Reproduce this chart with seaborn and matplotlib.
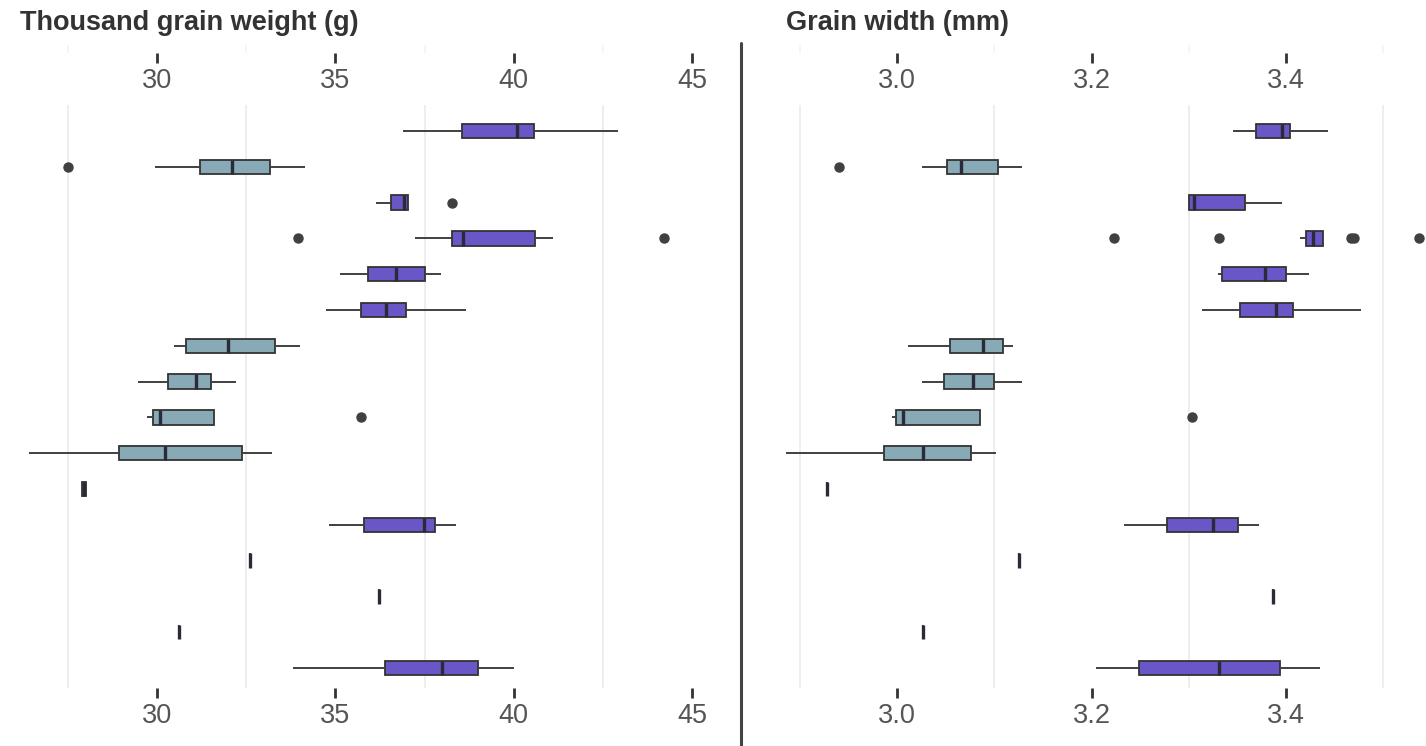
import matplotlib
matplotlib.use("Agg")
import matplotlib.pyplot as plt
from matplotlib.lines import Line2D
import seaborn as sns
import pandas as pd

sns.set_style("white")
plt.rcParams["font.family"] = ["Liberation Sans", "DejaVu Sans"]

# Filas (de arriba hacia abajo) y grupo de color de cada una
rows = ["1", "2", "3", "4", "5", "6", "7", "8", "9", "10", "11", "12", "13", "14", "15", "16"]
groups = ["B", "A", "B", "B", "B", "B", "A", "A", "A", "A", "A", "B", "A", "B", "A", "B"]
palette = {"A": "#88a9b6", "B": "#6a56c6"}

# Thousand grain weight (g): bigote inferior, Q1, mediana, Q3, bigote superior, atípicos
tgw_low = [36.91, 29.94, 36.14, 37.24, 35.14, 34.74, 30.48, 29.47, 29.73, 26.42, 27.88, 34.83, 32.60, 36.21, 30.61, 33.80]
tgw_q1 = [38.55, 31.21, 36.56, 38.27, 35.92, 35.71, 30.81, 30.32, 29.90, 28.93, 27.90, 35.81, 32.60, 36.21, 30.61, 36.38]
tgw_med = [40.10, 32.09, 36.92, 38.57, 36.69, 36.43, 32.00, 31.10, 30.08, 30.22, 27.96, 37.48, 32.60, 36.21, 30.61, 37.98]
tgw_q3 = [40.56, 33.18, 37.03, 40.59, 37.52, 36.98, 33.32, 31.51, 31.61, 32.39, 28.02, 37.80, 32.60, 36.21, 30.61, 38.99]
tgw_high = [42.92, 34.15, 37.03, 41.09, 37.96, 38.67, 34.02, 32.21, 31.61, 33.22, 28.05, 38.37, 32.60, 36.21, 30.61, 40.01]
tgw_out = [[], [27.51], [38.27], [33.94, 44.21], [], [], [], [], [35.71], [], [], [], [], [], [], []]

# Grain width (mm)
gw_low = [3.345, 3.026, 3.299, 3.414, 3.330, 3.313, 3.011, 3.026, 2.995, 2.886, 2.928, 3.233, 3.125, 3.386, 3.027, 3.205]
gw_q1 = [3.369, 3.051, 3.300, 3.420, 3.334, 3.353, 3.055, 3.048, 2.999, 2.987, 2.928, 3.278, 3.125, 3.386, 3.027, 3.249]
gw_med = [3.396, 3.066, 3.305, 3.428, 3.378, 3.390, 3.088, 3.078, 3.006, 3.027, 2.928, 3.325, 3.125, 3.386, 3.027, 3.331]
gw_q3 = [3.404, 3.104, 3.358, 3.438, 3.400, 3.407, 3.109, 3.100, 3.085, 3.076, 2.928, 3.350, 3.125, 3.386, 3.027, 3.394]
gw_high = [3.443, 3.129, 3.396, 3.438, 3.423, 3.477, 3.119, 3.128, 3.085, 3.102, 2.928, 3.372, 3.125, 3.386, 3.027, 3.435]
gw_out = [[], [2.940], [], [3.223, 3.331, 3.467, 3.470, 3.537], [], [], [], [], [3.303], [], [], [], [], [], [], []]

tgw_ticks = [30, 35, 40, 45]
tgw_grid = [27.5, 32.5, 37.5, 42.5]
gw_ticks = [3.0, 3.2, 3.4]
gw_grid = [2.9, 3.1, 3.3, 3.5]

W, H = 1426, 746


def long_form(low, q1, med, q3, high, outliers, reps=20):
    """Observaciones que reproducen los cuartiles y bigotes leídos."""
    records = []
    for row, grp, lo, a, m, b, hi, outs in zip(rows, groups, low, q1, med, q3, high, outliers):
        sample = [lo] + [a] * reps + [m] * reps + [b] * reps + [hi] + list(outs)
        records += [(row, grp, v) for v in sample]
    return pd.DataFrame(records, columns=["row", "group", "value"])


def style_ticks(ax, pad):
    ax.tick_params(axis="x", which="major", bottom=True, direction="out", length=7,
                   width=2, color="#333333", pad=pad, labelsize=19.5,
                   labelcolor="#555555")
    ax.tick_params(axis="x", which="minor", bottom=False, length=0)


def panel(x0, x1, data, xlim, ticks, grid, title, title_x):
    top, bottom = 105, 688
    ax = fig.add_axes([x0 / W, 1 - bottom / H, (x1 - x0) / W, (bottom - top) / H])
    sns.boxplot(
        data=data, x="value", y="row", hue="group", order=rows, palette=palette,
        dodge=False, orient="h", width=0.4, saturation=1, legend=False,
        linewidth=1.3, linecolor="#333333", showcaps=False,
        flierprops=dict(marker="o", markersize=6.5, markerfacecolor="#404040",
                        markeredgecolor="#404040"),
        medianprops=dict(linewidth=2.4, color="#2a2a38"),
        whiskerprops=dict(linewidth=1.4, color="#404040"),
        ax=ax,
    )
    ax.set_xlim(*xlim)
    ax.set_ylim(15.56, -0.726)
    ax.set_xticks(ticks)
    ax.set_xticks(grid, minor=True)
    ax.grid(False)
    ax.grid(which="minor", axis="x", color="#ebebeb", linewidth=1.2)
    style_ticks(ax, pad=4)
    ax.tick_params(axis="y", left=False, labelleft=False)
    ax.set_xlabel("")
    ax.set_ylabel("")
    for s in ax.spines.values():
        s.set_visible(False)

    # eje superior duplicado: marca arriba y etiqueta debajo
    axt = fig.add_axes([x0 / W, 1 - 53 / H, (x1 - x0) / W, 8 / H])
    axt.set_xlim(*xlim)
    axt.set_xticks(ticks)
    axt.set_xticks(grid, minor=True)
    axt.grid(False)
    axt.grid(which="minor", axis="x", color="#f3f3f3", linewidth=1.2)
    style_ticks(axt, pad=4)
    axt.set_yticks([])
    axt.patch.set_alpha(0)
    for s in axt.spines.values():
        s.set_visible(False)

    fig.text(title_x / W, 1 - 23 / H, title, fontsize=19.5, fontweight="bold",
             color="#333333", ha="left", va="center")
    return ax


fig = plt.figure(figsize=(W / 100, H / 100), dpi=100)

tgw = long_form(tgw_low, tgw_q1, tgw_med, tgw_q3, tgw_high, tgw_out)
gw = long_form(gw_low, gw_q1, gw_med, gw_q3, gw_high, gw_out)

panel(20, 710, tgw, (26.159, 45.503), tgw_ticks, tgw_grid, "Thousand grain weight (g)", 20)
panel(780, 1426, gw, (2.8798, 3.5437), gw_ticks, gw_grid, "Grain width (mm)", 786)

fig.add_artist(Line2D([741 / W, 741 / W], [0, 1 - 43 / H], color="#444444", linewidth=2.2))

fig.savefig("out.png", dpi=100)
